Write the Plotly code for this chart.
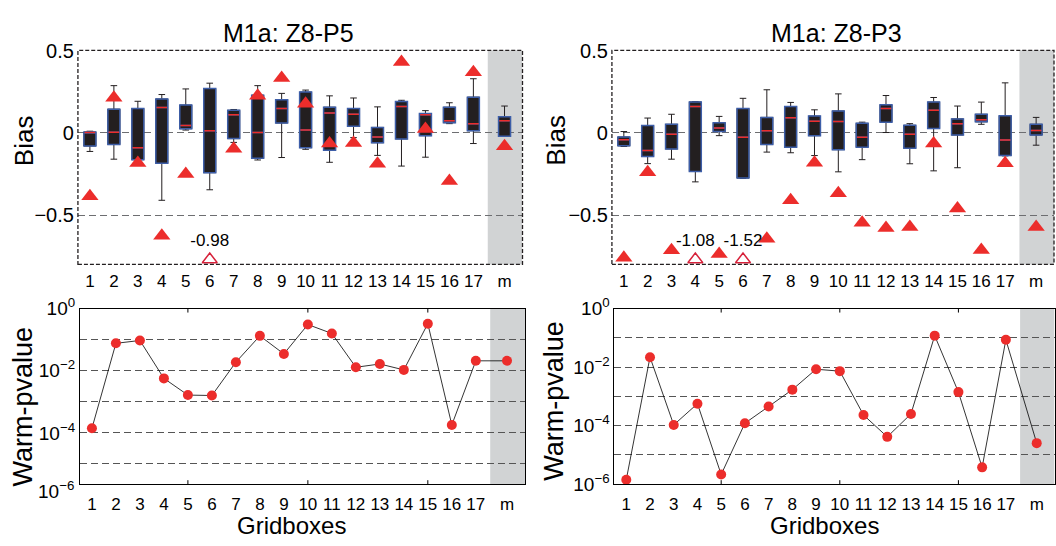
import plotly.graph_objects as go

# ---------------- data ----------------
gridboxes = [str(i) for i in range(1, 18)] + ["m"]

# Top-left: M1a: Z8-P5 (bias box statistics)
p5_lo  = [-0.113, -0.160, -0.165, -0.410, 0.017, -0.346, -0.058, -0.165, -0.150, -0.100, -0.179, -0.029, -0.137, -0.202, -0.148, 0.056, -0.065, -0.021]
p5_q1  = [-0.080, -0.071, -0.163, -0.185, 0.025, -0.242, -0.035, -0.154, 0.060, -0.090, -0.106, 0.040, -0.060, -0.037, -0.017, 0.062, 0.013, -0.021]
p5_med = [0.002, 0.004, -0.090, 0.154, 0.044, 0.013, 0.110, 0.002, 0.148, 0.017, 0.121, 0.113, -0.025, 0.160, 0.110, 0.073, 0.056, 0.073]
p5_q3  = [0.005, 0.144, 0.148, 0.206, 0.169, 0.269, 0.137, 0.229, 0.202, 0.248, 0.156, 0.148, 0.033, 0.190, 0.117, 0.156, 0.217, 0.098]
p5_hi  = [0.010, 0.287, 0.192, 0.233, 0.267, 0.302, 0.142, 0.287, 0.240, 0.260, 0.225, 0.212, 0.158, 0.198, 0.135, 0.183, 0.329, 0.163]
p5_tri = [-0.385, 0.213, -0.183, -0.625, -0.250, None, -0.096, 0.225, 0.333, 0.177, -0.065, -0.062, -0.188, 0.431, 0.023, -0.292, 0.369, -0.081]
p5_off_idx = [6]
p5_off_txt = ["-0.98"]

# Top-right: M1a: Z8-P3
p3_lo  = [-0.083, -0.187, -0.160, -0.298, -0.017, -0.277, -0.117, -0.121, -0.138, -0.237, -0.163, 0.002, -0.188, -0.231, -0.212, 0.052, -0.140, -0.075]
p3_q1  = [-0.079, -0.144, -0.098, -0.235, 0.008, -0.275, -0.071, -0.088, -0.017, -0.102, -0.087, 0.065, -0.094, 0.027, -0.013, 0.067, -0.138, -0.013]
p3_med = [-0.042, -0.108, -0.008, 0.160, 0.029, -0.027, 0.013, 0.092, 0.071, 0.069, -0.027, 0.148, -0.008, 0.137, 0.056, 0.079, -0.044, 0.015]
p3_q3  = [-0.025, 0.044, 0.052, 0.188, 0.062, 0.148, 0.094, 0.160, 0.102, 0.133, 0.058, 0.171, 0.046, 0.187, 0.085, 0.113, 0.104, 0.052]
p3_hi  = [0.008, 0.090, 0.113, 0.190, 0.100, 0.210, 0.262, 0.185, 0.140, 0.237, 0.065, 0.227, 0.056, 0.215, 0.163, 0.187, 0.304, 0.094]
p3_tri = [-0.760, -0.240, -0.713, None, -0.737, None, -0.644, -0.410, -0.181, -0.367, -0.546, -0.579, -0.573, -0.065, -0.460, -0.712, -0.185, -0.573]
p3_off_idx = [4, 6]
p3_off_txt = ["-1.08", "-1.52"]

# Bottom: warm p-values
p5_pval = [1.4e-4, 0.077, 0.095, 5.7e-3, 1.65e-3, 1.6e-3, 0.019, 0.134, 0.035, 0.31, 0.16, 0.013, 0.0166, 0.0107, 0.33, 1.8e-4, 0.021, 0.021]
p3_pval = [1.4e-6, 0.022, 1.05e-4, 5.6e-4, 2.1e-6, 1.2e-4, 4.5e-4, 1.7e-3, 8.5e-3, 7.3e-3, 2.3e-4, 4.1e-5, 2.5e-4, 0.12, 1.4e-3, 3.7e-6, 0.087, 2.5e-5]

# ---------------- style ----------------
W, H = 1056, 546
FONT = "Liberation Sans, Arial, sans-serif"
RED = "#ec2d2b"
OPEN_RED = "#d7213a"
BOXFILL = "#231f20"
BOXEDGE = "#3d5ea8"
GRAY = "#d1d3d4"
GRID = "#6d6e71"
XMIN, XMAX = 0.5, 19.05
GRAY_X0 = 17.6
M_POS = 18.3
YMIN_T, YMAX_T = -0.8, 0.502
TOP_TICKS = [5, 10, 15]

pos = list(range(1, 18)) + [M_POS]

def px_x(v):
    return v / W

def px_y(v):
    return 1 - v / H

fig = go.Figure()

def add_top(lo, q1, med, q3, hi, tri, off_idx, off_txt, xa, ya):
    fig.add_trace(go.Box(x=pos, q1=q1, median=med, q3=q3, lowerfence=lo, upperfence=hi,
                         orientation="v", width=0.5, whiskerwidth=0.55, boxpoints=False,
                         line=dict(color=BOXFILL, width=1), fillcolor=BOXFILL,
                         xaxis=xa, yaxis=ya, showlegend=False, hoverinfo="skip"))
    fig.add_trace(go.Box(x=pos, q1=q1, median=med, q3=q3, lowerfence=q1, upperfence=q3,
                         orientation="v", width=0.5, whiskerwidth=0, boxpoints=False,
                         line=dict(color=BOXEDGE, width=1.5), fillcolor=BOXFILL,
                         xaxis=xa, yaxis=ya, showlegend=False, hoverinfo="skip"))
    fig.add_trace(go.Scatter(x=pos, y=med, mode="markers",
                             marker=dict(symbol="line-ew", size=7.5, line=dict(color=RED, width=1.5)),
                             xaxis=xa, yaxis=ya, showlegend=False, hoverinfo="skip"))
    fig.add_trace(go.Scatter(x=pos, y=tri, mode="markers",
                             marker=dict(symbol="triangle-up", size=15, color=RED, line=dict(width=0)),
                             xaxis=xa, yaxis=ya, showlegend=False, hoverinfo="skip"))
    fig.add_trace(go.Scatter(x=[pos[i - 1] for i in off_idx], y=[YMIN_T + 0.03] * len(off_idx),
                             mode="markers+text", text=off_txt, textposition="top center",
                             textfont=dict(family=FONT, size=17, color="black"),
                             marker=dict(symbol="triangle-up-open", size=13, color=OPEN_RED,
                                         line=dict(color=OPEN_RED, width=1.5)),
                             xaxis=xa, yaxis=ya, showlegend=False, hoverinfo="skip", cliponaxis=False))

def add_bottom(pv, xa, ya):
    fig.add_trace(go.Scatter(x=pos, y=pv, mode="lines+markers",
                             line=dict(color="black", width=0.8),
                             marker=dict(size=10, color=RED),
                             xaxis=xa, yaxis=ya, showlegend=False, hoverinfo="skip"))

add_top(p5_lo, p5_q1, p5_med, p5_q3, p5_hi, p5_tri, p5_off_idx, p5_off_txt, "x", "y")
add_top(p3_lo, p3_q1, p3_med, p3_q3, p3_hi, p3_tri, p3_off_idx, p3_off_txt, "x2", "y2")
add_bottom(p5_pval, "x3", "y3")
add_bottom(p3_pval, "x4", "y4")

xcommon = dict(range=[XMIN, XMAX], tickmode="array", tickvals=pos, ticktext=gridboxes,
               tickfont=dict(family=FONT, size=17, color="black"), showgrid=False,
               zeroline=False, ticks="")
ytop = dict(range=[YMIN_T, YMAX_T], tickmode="array", tickvals=[-0.5, 0, 0.5],
            ticktext=["\u22120.5", "0", "0.5"], tickfont=dict(family=FONT, size=20, color="black"),
            showgrid=True, gridcolor=GRID, gridwidth=1, griddash="7px,4px", zeroline=False,
            ticks="", showline=False, ticklabelstandoff=3)
ybot = dict(type="log", tickmode="array", tickvals=[1, 1e-2, 1e-4, 1e-6],
            ticktext=["10<sup>0</sup>", "10<sup>\u22122</sup>", "10<sup>\u22124</sup>", "10<sup>\u22126</sup>"],
            tickfont=dict(family=FONT, size=19, color="black"),
            showgrid=True, gridcolor="#555", gridwidth=1, griddash="7px,4px", zeroline=False,
            minor=dict(tickmode="array", tickvals=[1e-1, 1e-3, 1e-5], showgrid=True, gridcolor="#555",
                       gridwidth=1, griddash="7px,4px", ticks=""),
            ticks="", showline=True, mirror=True, linecolor="black", linewidth=1)
xbot_extra = dict(showline=True, mirror=True, linecolor="black", linewidth=1)

fig.update_layout(
    width=W, height=H, margin=dict(l=0, r=0, t=0, b=0),
    paper_bgcolor="white", plot_bgcolor="white", boxmode="overlay",
    xaxis=dict(domain=[px_x(78), px_x(523)], anchor="y", ticklabelstandoff=5, **xcommon),
    yaxis=dict(domain=[px_y(263), px_y(39)], anchor="x", **ytop),
    xaxis2=dict(domain=[px_x(612.5), px_x(1055)], anchor="y2", ticklabelstandoff=5, **xcommon),
    yaxis2=dict(domain=[px_y(263), px_y(39)], anchor="x2", **ytop),
    xaxis3=dict(domain=[px_x(80), px_x(525.5)], anchor="y3", ticklabelstandoff=5, **xcommon, **xbot_extra),
    yaxis3=dict(domain=[px_y(492.7), px_y(309.3)], anchor="x3", range=[-5.65, 0.002], **ybot),
    xaxis4=dict(domain=[px_x(615), px_x(1055.5)], anchor="y4", ticklabelstandoff=5, **xcommon, **xbot_extra),
    yaxis4=dict(domain=[px_y(492.7), px_y(309.3)], anchor="x4", range=[-6.003, 0.002], **ybot),
)

shapes = []
for xr, yr in [("x", "y"), ("x2", "y2"), ("x3", "y3"), ("x4", "y4")]:
    shapes.append(dict(type="rect", xref=xr, yref=yr + " domain", x0=GRAY_X0, x1=XMAX, y0=0, y1=1,
                       fillcolor=GRAY, line=dict(width=0), layer="below"))
for xr, yr in [("x", "y"), ("x2", "y2")]:
    shapes.append(dict(type="rect", xref=xr + " domain", yref=yr + " domain", x0=0, x1=1, y0=0, y1=1,
                       line=dict(color="#231f20", width=1.3, dash="4px,2px"), layer="above"))
# small inward tick marks on the bottom panels (MATLAB default ticks at 5, 10, 15)
for xr, yr in [("x3", "y3"), ("x4", "y4")]:
    for t in TOP_TICKS:
        for y0, y1 in [(0, 0.022), (1, 0.978)]:
            shapes.append(dict(type="line", xref=xr, yref=yr + " domain", x0=t, x1=t, y0=y0, y1=y1,
                               line=dict(color="black", width=1), layer="above"))
fig.update_layout(shapes=shapes)

ann = []
def a(text, x, y, size, angle=0, xanchor="center", yanchor="middle"):
    ann.append(dict(text=text, x=px_x(x), y=px_y(y), xref="paper", yref="paper", showarrow=False,
                    font=dict(family=FONT, size=size, color="black"), textangle=angle,
                    xanchor=xanchor, yanchor=yanchor))

a("M1a: Z8-P5", 289, 4, 25, yanchor="top")
a("M1a: Z8-P3", 837, 4, 25, yanchor="top")
a("Bias", 24, 133, 26, -90)
a("Bias", 557, 133, 26, -90)
a("Warm-pvalue", 22.5, 411, 27, -90)
a("Warm-pvalue", 555, 405, 27, -90)
a("Gridboxes", 291.5, 552, 24, yanchor="bottom")
a("Gridboxes", 825, 552, 24, yanchor="bottom")
a("10<sup>\u22126</sup>", 76, 499, 19, xanchor="right")
fig.update_layout(annotations=ann)

fig.write_html("out.html")
